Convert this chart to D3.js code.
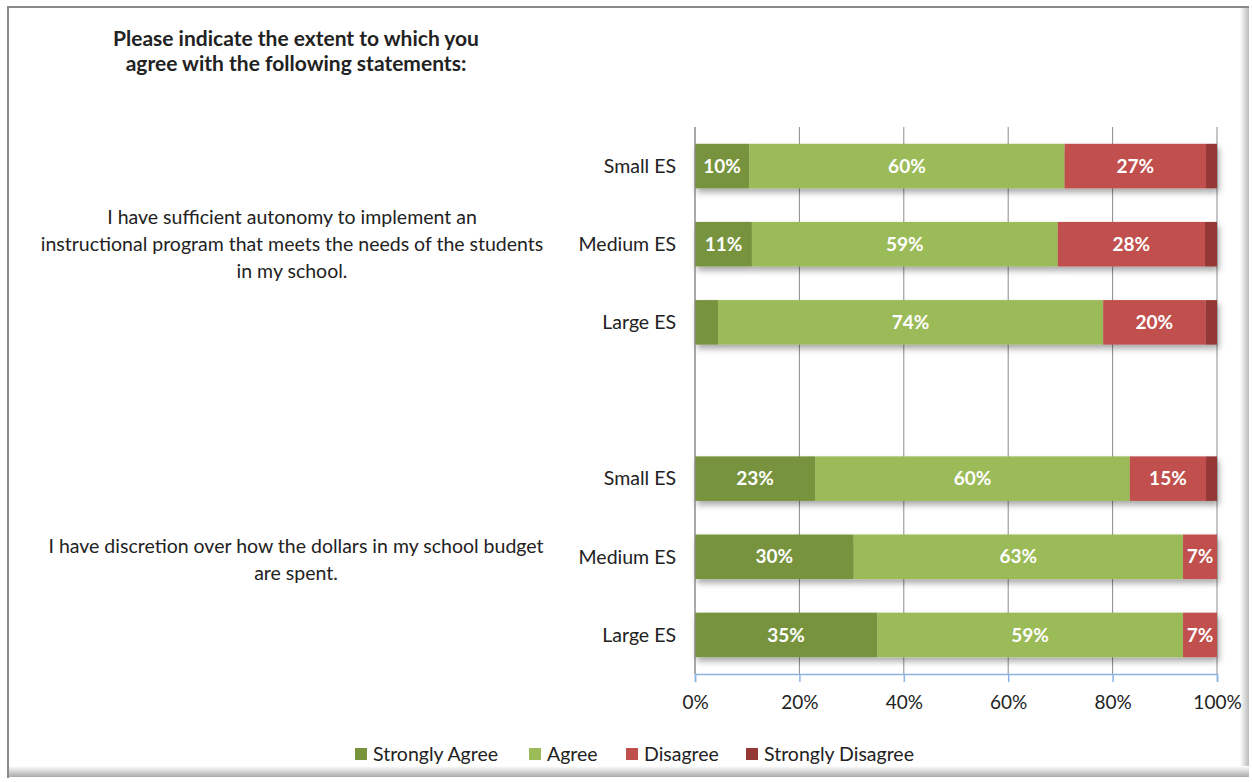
<!DOCTYPE html>
<html><head><meta charset="utf-8">
<script src="https://cdn.jsdelivr.net/npm/d3@7"></script>
<style>body{margin:0;background:#fff;} svg{display:block;} text{font-family:Lato,"Open Sans",sans-serif;}</style>
</head><body><svg id="c" width="1252" height="782"></svg>
<script>
const title = ["Please indicate the extent to which you", "agree with the following statements:"];
const rowLabels = ["Small ES", "Medium ES", "Large ES", "", "Small ES", "Medium ES", "Large ES"];
const statement1 = ["I have sufficient autonomy to implement an", "instructional program that meets the needs of the students", "in my school."];
const statement2 = ["I have discretion over how the dollars in my school budget", "are spent."];
const seriesNames = ["Strongly Agree", "Agree", "Disagree", "Strongly Disagree"];
const colors = ["#77933C", "#9BBB59", "#C0504D", "#953735"];
const stronglyAgree    = [10.4, 10.9, 4.4, null, 23.0, 30.4, 34.9];
const agree            = [60.4, 58.6, 73.8, null, 60.3, 63.1, 58.6];
const disagree         = [27.1, 28.2, 19.6, null, 14.6, 6.5, 6.5];
const stronglyDisagree = [2.1, 2.3, 2.2, null, 2.1, 0, 0];
const xTicks = [0, 20, 40, 60, 80, 100];

const svg = d3.select("#c");
const defs = svg.append("defs");
const f = defs.append("filter").attr("id","sh").attr("x","-5%").attr("y","-20%").attr("width","115%").attr("height","160%");
f.append("feDropShadow").attr("dx",2).attr("dy",4).attr("stdDeviation",3).attr("flood-color","#000").attr("flood-opacity",0.35);
const gr = defs.append("linearGradient").attr("id","gr").attr("x1",0).attr("x2",1).attr("y1",0).attr("y2",0);
gr.append("stop").attr("offset",0).attr("stop-color","#fff");
gr.append("stop").attr("offset",1).attr("stop-color","#bbb");
const gb = defs.append("linearGradient").attr("id","gb").attr("x1",0).attr("x2",0).attr("y1",0).attr("y2",1);
gb.append("stop").attr("offset",0).attr("stop-color","#fff");
gb.append("stop").attr("offset",1).attr("stop-color","#aaa");

// frame
svg.append("rect").attr("x",1240).attr("y",8).attr("width",9).attr("height",768).attr("fill","url(#gr)");
svg.append("rect").attr("x",8).attr("y",766).attr("width",1241).attr("height",11).attr("fill","url(#gb)");
svg.append("line").attr("x1",8).attr("x2",8).attr("y1",6).attr("y2",778).attr("stroke","#8a8a8a").attr("stroke-width",2);
svg.append("line").attr("x1",7).attr("x2",1249).attr("y1",7).attr("y2",7).attr("stroke","#8a8a8a").attr("stroke-width",2);

const x = d3.scaleLinear().domain([0,100]).range([695,1217]);
const y = d3.scaleBand().domain(d3.range(rowLabels.length)).range([127,674]).paddingInner(0.43).paddingOuter(0.215);

// gridlines
svg.append("g").selectAll("line").data(xTicks).join("line")
  .attr("x1",d=>x(d)).attr("x2",d=>x(d)).attr("y1",127).attr("y2",674)
  .attr("stroke","#8c8c8c").attr("stroke-width",1);

// bars
const series = [stronglyAgree, agree, disagree, stronglyDisagree];
const rows = d3.range(rowLabels.length).filter(i => stronglyAgree[i] !== null);
const segs = [];
rows.forEach(i => {
  let acc = 0;
  series.forEach((s, k) => { segs.push({row:i, k, x0:acc, x1:acc + s[i], v:s[i]}); acc += s[i]; });
});
const rowG = svg.append("g").selectAll("g").data(rows).join("g").attr("filter","url(#sh)");
rowG.selectAll("rect").data(i => segs.filter(s => s.row === i && s.v > 0)).join("rect")
  .attr("x", d => x(d.x0)).attr("width", d => x(d.x1) - x(d.x0))
  .attr("y", d => y(d.row)).attr("height", y.bandwidth())
  .attr("fill", d => colors[d.k]);
svg.append("g").selectAll("text").data(segs.filter(s => s.v >= 5)).join("text")
  .attr("x", d => (x(d.x0) + x(d.x1)) / 2).attr("y", d => y(d.row) + y.bandwidth()/2)
  .attr("dy","0.35em").attr("text-anchor","middle").attr("fill","#fff")
  .attr("font-weight","bold").attr("font-size","19px")
  .text(d => Math.round(d.v) + "%");

// axis
svg.append("line").attr("x1",695).attr("x2",695).attr("y1",127).attr("y2",674).attr("stroke","#8c8c8c");
const ax = svg.append("g").attr("transform","translate(0,674)")
  .call(d3.axisBottom(x).tickValues(xTicks).tickSize(8).tickPadding(14).tickFormat(d => d + "%"));
ax.select(".domain").attr("stroke","#8DB3E2").attr("stroke-width",1.5);
ax.selectAll(".tick line").attr("stroke","#8DB3E2").attr("stroke-width",1.5);
ax.selectAll(".tick text").attr("font-size","19px").attr("fill","#222").style("font-family","Lato");

// row labels
svg.append("g").selectAll("text").data(rows).join("text")
  .attr("x", 676).attr("y", i => y(i) + y.bandwidth()/2).attr("dy","0.35em")
  .attr("text-anchor","end").attr("font-size","19.5px").attr("fill","#222")
  .text(i => rowLabels[i]);

// statements
function block(lines, cy, cx, size, weight, lh) {
  const t = svg.append("text").attr("text-anchor","middle").attr("font-size",size).attr("font-weight",weight).attr("fill","#222");
  const y0 = cy - (lines.length - 1) * lh / 2;
  lines.forEach((l, j) => t.append("tspan").attr("x", cx).attr("y", y0 + j*lh).attr("dy","0.35em").text(l));
}
block(statement1, (y(1) + y.bandwidth()/2), 292, "19.5px", "normal", 27);
block(statement2, (y(5) + y.bandwidth()/2) + 3, 296, "19.5px", "normal", 27);
block(title.slice(0,1), 39, 296, "21px", "bold", 25);
block(title.slice(1), 64, 296, "21px", "bold", 25);

// legend
const legX = [355, 529, 626, 746];
const lg = svg.append("g").selectAll("g").data(seriesNames).join("g")
  .attr("transform", (d,i) => `translate(${legX[i]},754)`);
lg.append("rect").attr("x",0).attr("y",-6).attr("width",12).attr("height",12).attr("fill",(d,i)=>colors[i]);
lg.append("text").attr("x",18).attr("dy","0.35em").attr("font-size","19.5px").attr("fill","#222").text(d=>d);
</script></body></html>
